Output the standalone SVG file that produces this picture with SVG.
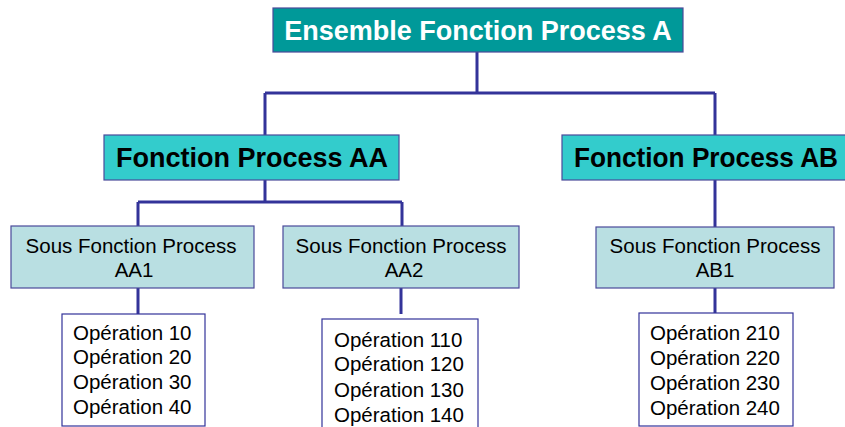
<svg xmlns="http://www.w3.org/2000/svg" width="845" height="427" viewBox="0 0 845 427">
<style>
.ln{stroke:#333399;stroke-width:3;fill:none}
.b0{fill:#009999;stroke:#4a4a9a;stroke-width:1.2}
.b1{fill:#33CCCC;stroke:#4a4a9a;stroke-width:1.2}
.b2{fill:#B9DFE2;stroke:#4a4a9a;stroke-width:1.2}
.b3{fill:#FFFFFF;stroke:#333399;stroke-width:1.2}
.tb{font-family:"Liberation Sans",Arial,sans-serif;font-weight:bold;font-size:27px;text-anchor:middle}
.tr{font-family:"Liberation Sans",Arial,sans-serif;font-size:20.5px;fill:#000}
.c{text-anchor:middle}
</style>
<rect width="845" height="427" fill="#fff"/>
<g id="connectors">
<path class="ln" d="M477 52V93M265 93H715M265 93V135M715 93V135"/>
<path class="ln" d="M265 180V202M138 202H402M138 202V226M402 202V226"/>
<path class="ln" d="M715 180V227"/>
<path class="ln" d="M138 288V314M401 288V314M715 288V313"/>
</g>
<g id="n_top">
<rect class="b0" x="273" y="8" width="410" height="44"/>
<text class="tb" x="478" y="40" fill="#fff">Ensemble Fonction Process A</text>
</g>
<g id="n_AA">
<rect class="b1" x="104" y="135" width="295" height="45"/>
<text class="tb" x="252" y="167">Fonction Process AA</text>
</g>
<g id="n_AB">
<rect class="b1" x="562" y="135" width="304" height="45"/>
<text class="tb" x="574" y="167" style="text-anchor:start" textLength="264" lengthAdjust="spacingAndGlyphs">Fonction Process AB</text>
</g>
<g id="n_AA1">
<rect class="b2" x="11" y="226" width="243" height="62"/>
<text class="tr c" x="131" y="253">Sous Fonction Process</text>
<text class="tr c" x="134" y="277">AA1</text>
</g>
<g id="n_AA2">
<rect class="b2" x="283" y="226" width="236" height="62"/>
<text class="tr c" x="401" y="253">Sous Fonction Process</text>
<text class="tr c" x="404" y="277">AA2</text>
</g>
<g id="n_AB1">
<rect class="b2" x="596" y="227" width="238" height="61"/>
<text class="tr c" x="715" y="253">Sous Fonction Process</text>
<text class="tr c" x="715" y="277">AB1</text>
</g>
<g id="n_opAA1">
<rect class="b3" x="62" y="314" width="143" height="112"/>
<text class="tr" x="73" y="340">Opération 10</text>
<text class="tr" x="73" y="364">Opération 20</text>
<text class="tr" x="73" y="389">Opération 30</text>
<text class="tr" x="73" y="414">Opération 40</text>
</g>
<g id="n_opAA2">
<rect class="b3" x="322" y="319" width="156" height="120"/>
<text class="tr" x="334" y="347">Opération 110</text>
<text class="tr" x="334" y="371">Opération 120</text>
<text class="tr" x="334" y="397">Opération 130</text>
<text class="tr" x="334" y="422">Opération 140</text>
</g>
<g id="n_opAB1">
<rect class="b3" x="639" y="313" width="154" height="113"/>
<text class="tr" x="650" y="340">Opération 210</text>
<text class="tr" x="650" y="365">Opération 220</text>
<text class="tr" x="650" y="390">Opération 230</text>
<text class="tr" x="650" y="415">Opération 240</text>
</g>
</svg>
